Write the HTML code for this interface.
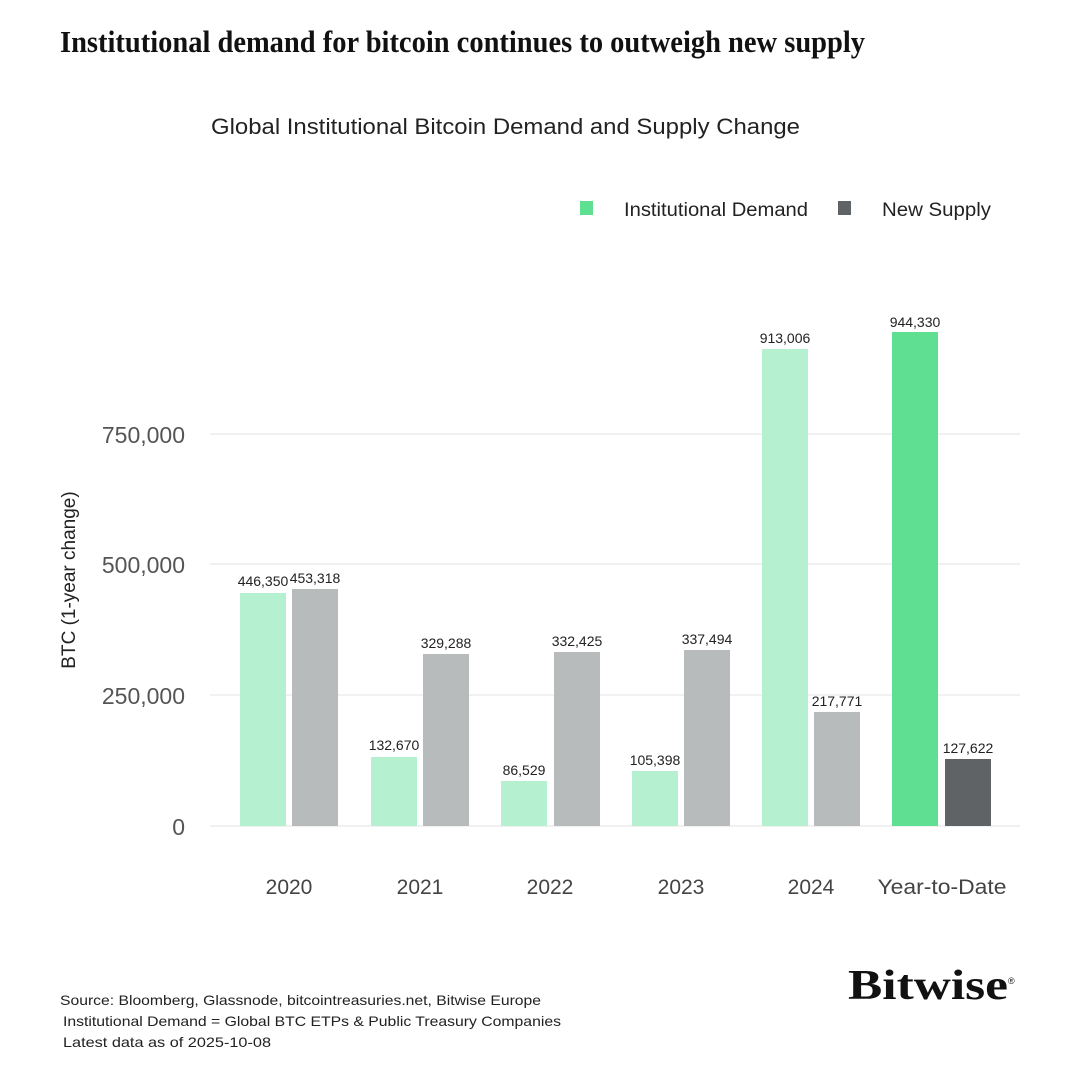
<!DOCTYPE html>
<html><head><meta charset="utf-8"><style>body{margin:0;background:#fff}</style></head><body>
<svg width="1080" height="1080" xmlns="http://www.w3.org/2000/svg" style="display:block">
<rect width="1080" height="1080" fill="#fff"/>
<text x="60" y="52" font-family="Liberation Serif, serif" font-weight="bold" font-size="31" textLength="805" lengthAdjust="spacingAndGlyphs" fill="#111">Institutional demand for bitcoin continues to outweigh new supply</text>
<text x="211" y="134" font-family="Liberation Sans, sans-serif" font-size="22" textLength="589" lengthAdjust="spacingAndGlyphs" fill="#222">Global Institutional Bitcoin Demand and Supply Change</text>
<rect x="580" y="201" width="13" height="14" fill="#5fdf92"/>
<text x="624" y="216" font-family="Liberation Sans, sans-serif" font-size="19" textLength="184" lengthAdjust="spacingAndGlyphs" fill="#222">Institutional Demand</text>
<rect x="838" y="201" width="13" height="14" fill="#5f6366"/>
<text x="882" y="216" font-family="Liberation Sans, sans-serif" font-size="19" textLength="109" lengthAdjust="spacingAndGlyphs" fill="#222">New Supply</text>
<g stroke="#e3e3e3" stroke-width="1">
<line x1="210" y1="434" x2="1020" y2="434"/><line x1="210" y1="564" x2="1020" y2="564"/><line x1="210" y1="695" x2="1020" y2="695"/><line x1="210" y1="826" x2="1020" y2="826"/>
</g>
<g font-family="Liberation Sans, sans-serif" font-size="23" fill="#555" text-anchor="end">
<text x="185" y="443">750,000</text><text x="185" y="573">500,000</text><text x="185" y="704">250,000</text><text x="185" y="835">0</text>
</g>
<text transform="translate(75,580) rotate(-90)" font-family="Liberation Sans, sans-serif" font-size="19" fill="#222" text-anchor="middle">BTC (1-year change)</text>
<g>
<rect x="240" y="593" width="46" height="233" fill="#b5f0d0"/><rect x="292" y="589" width="46" height="237" fill="#b8bbbb"/>
<rect x="371" y="757" width="46" height="69" fill="#b5f0d0"/><rect x="423" y="654" width="46" height="172" fill="#b8bbbb"/>
<rect x="501" y="781" width="46" height="45" fill="#b5f0d0"/><rect x="554" y="652" width="46" height="174" fill="#b8bbbb"/>
<rect x="632" y="771" width="46" height="55" fill="#b5f0d0"/><rect x="684" y="650" width="46" height="176" fill="#b8bbbb"/>
<rect x="762" y="349" width="46" height="477" fill="#b5f0d0"/><rect x="814" y="712" width="46" height="114" fill="#b8bbbb"/>
<rect x="892" y="332" width="46" height="494" fill="#5fdf92"/><rect x="945" y="759" width="46" height="67" fill="#5f6366"/>
</g>
<g font-family="Liberation Sans, sans-serif" font-size="14" fill="#222" text-anchor="middle">
<text x="263" y="586">446,350</text><text x="315" y="583">453,318</text>
<text x="394" y="750">132,670</text><text x="446" y="648">329,288</text>
<text x="524" y="775">86,529</text><text x="577" y="646">332,425</text>
<text x="655" y="765">105,398</text><text x="707" y="644">337,494</text>
<text x="785" y="343">913,006</text><text x="837" y="706">217,771</text>
<text x="915" y="327">944,330</text><text x="968" y="753">127,622</text>
</g>
<g font-family="Liberation Sans, sans-serif" font-size="21" fill="#444" text-anchor="middle">
<text x="289" y="894">2020</text><text x="420" y="894">2021</text><text x="550" y="894">2022</text><text x="681" y="894">2023</text><text x="811" y="894">2024</text><text x="942" y="894" textLength="129" lengthAdjust="spacingAndGlyphs">Year-to-Date</text>
</g>
<text x="848" y="999" font-family="Liberation Serif, serif" font-weight="bold" font-size="42" textLength="160" lengthAdjust="spacingAndGlyphs" fill="#111">Bitwise</text>
<text x="1008" y="984" font-family="Liberation Sans, sans-serif" font-size="9" fill="#111">®</text>
<g font-family="Liberation Sans, sans-serif" font-size="14" fill="#222">
<text x="60" y="1005" textLength="481" lengthAdjust="spacingAndGlyphs">Source: Bloomberg, Glassnode, bitcointreasuries.net, Bitwise Europe</text>
<text x="63" y="1026" textLength="498" lengthAdjust="spacingAndGlyphs">Institutional Demand = Global BTC ETPs &amp; Public Treasury Companies</text>
<text x="63" y="1047" textLength="208" lengthAdjust="spacingAndGlyphs">Latest data as of 2025-10-08</text>
</g>
</svg>
</body></html>
